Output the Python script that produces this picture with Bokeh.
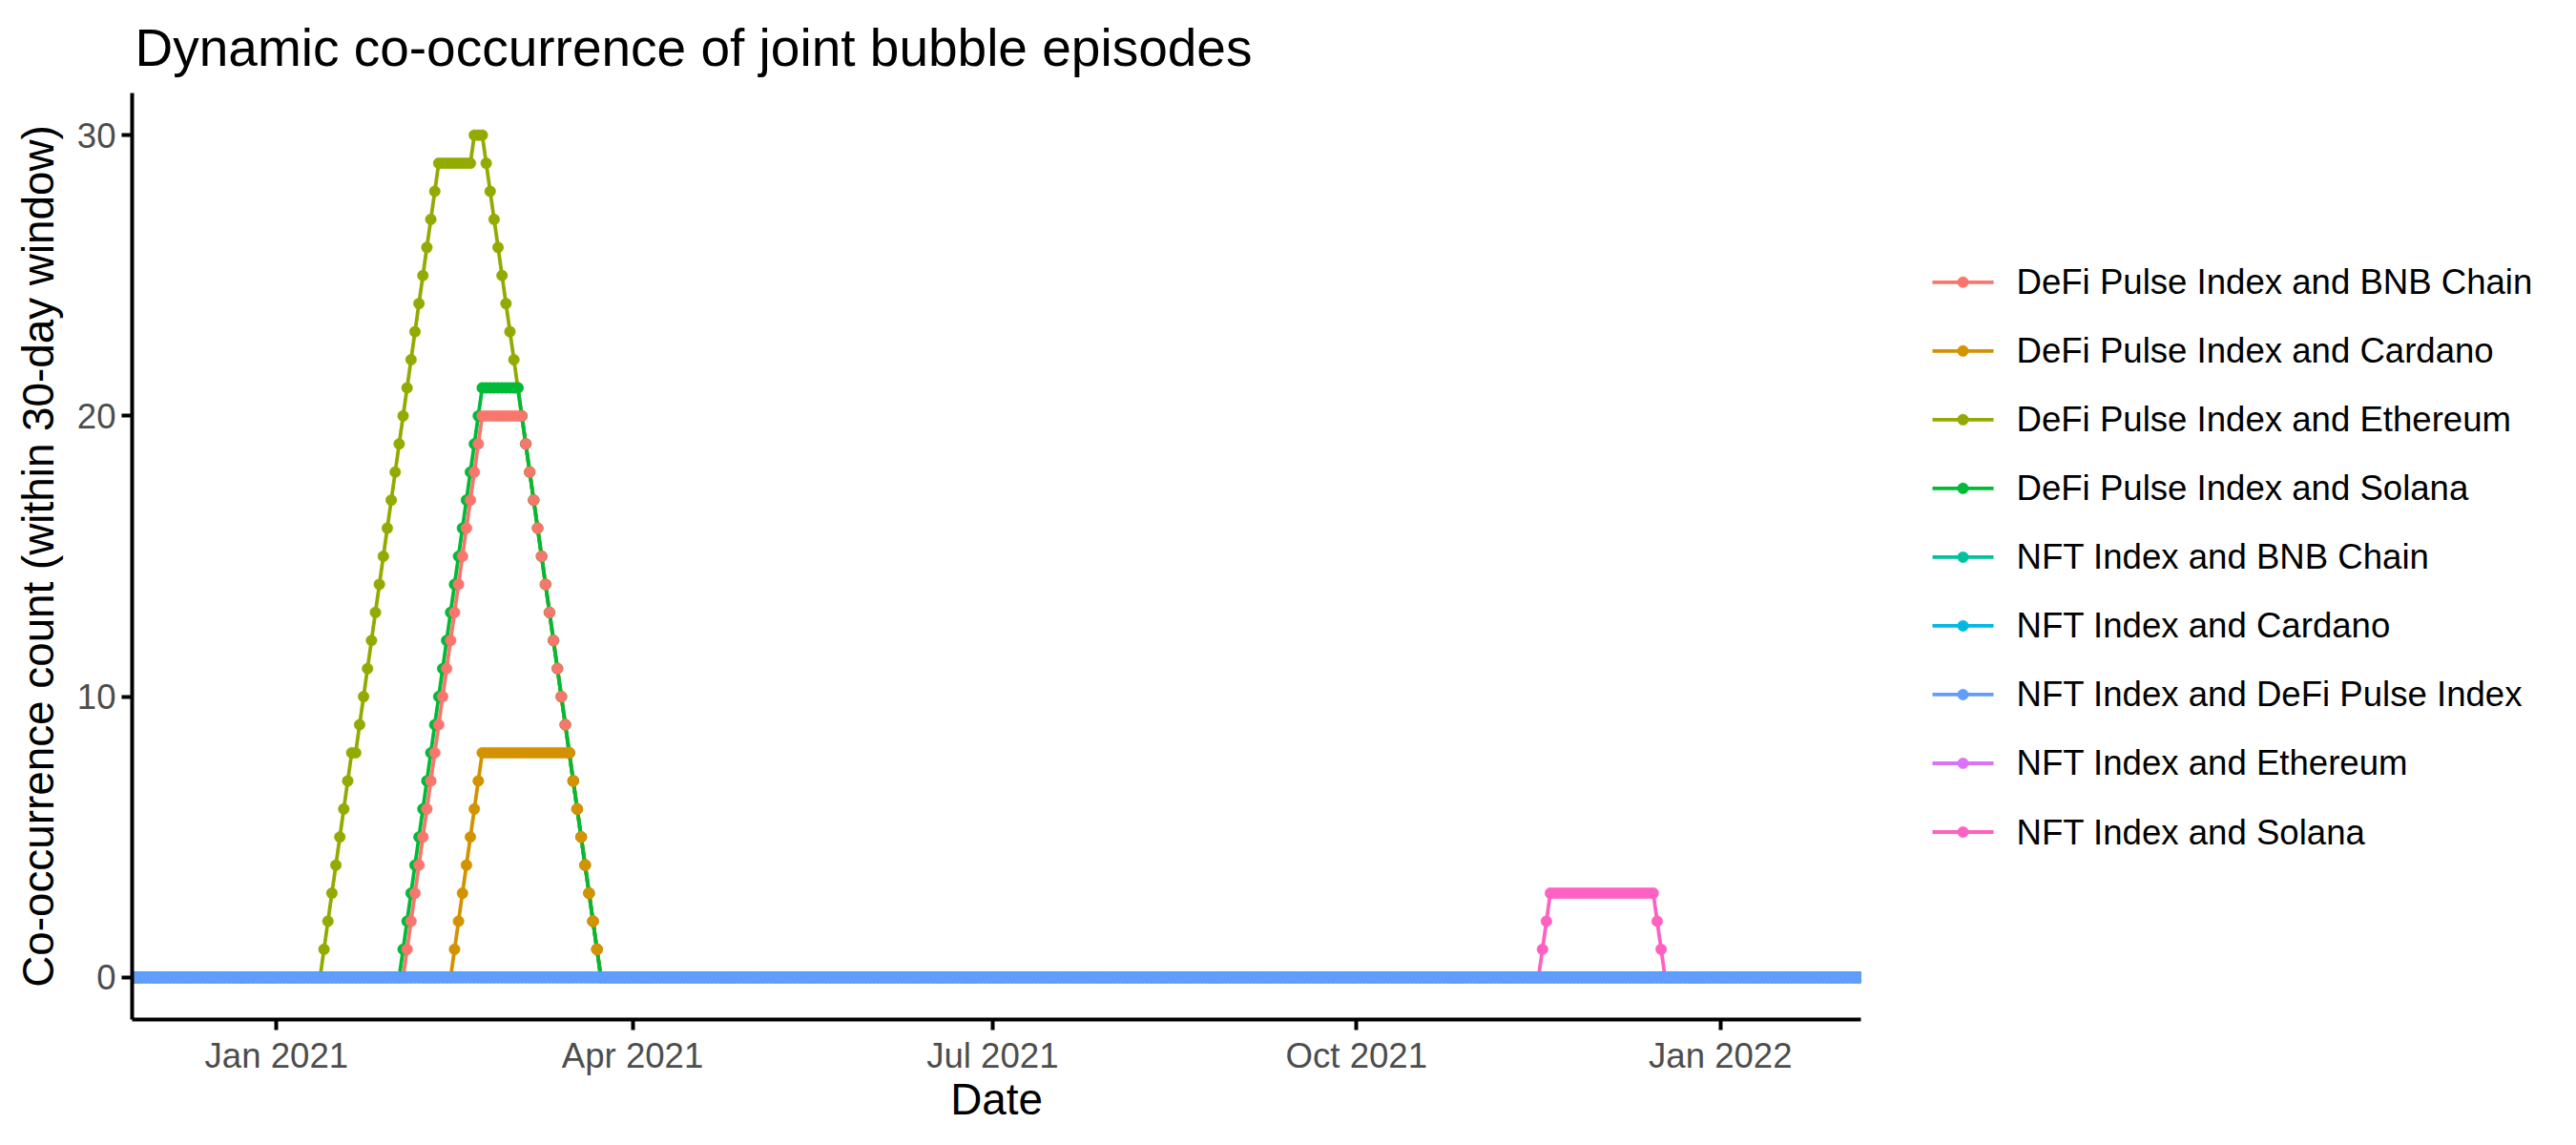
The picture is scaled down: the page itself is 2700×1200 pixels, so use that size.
import numpy as np
import pandas as pd
from bokeh.plotting import figure
from bokeh.layouts import row
from bokeh.core.properties import value
from bokeh.models import (ColumnDataSource, FixedTicker, DatetimeTickFormatter, Range1d)
from bokeh.embed import file_html
from bokeh.resources import INLINE

# ---------------- data ----------------
date_first = "2020-11-26"
date_last = "2022-02-05"

pairs = [
    "DeFi Pulse Index and BNB Chain",
    "DeFi Pulse Index and Cardano",
    "DeFi Pulse Index and Ethereum",
    "DeFi Pulse Index and Solana",
    "NFT Index and BNB Chain",
    "NFT Index and Cardano",
    "NFT Index and DeFi Pulse Index",
    "NFT Index and Ethereum",
    "NFT Index and Solana",
]
colors = ["#F8766D", "#D39200", "#93AA00", "#00BA38", "#00C19F",
          "#00B9E3", "#619CFF", "#DB72FB", "#FF61C3"]

# non-zero episodes: first date with a non-zero count, then daily counts
defi_bnb_start = "2021-02-03"
defi_bnb_vals = [1, 2, 3, 4, 5, 6, 7, 8, 9, 10, 11, 12, 13, 14, 15, 16, 17, 18, 19, 20,
                 20, 20, 20, 20, 20, 20, 20, 20, 20, 20,
                 19, 18, 17, 16, 15, 14, 13, 12, 11, 10, 9, 8, 7, 6, 5, 4, 3, 2, 1]

defi_cardano_start = "2021-02-15"
defi_cardano_vals = [1, 2, 3, 4, 5, 6, 7, 8,
                     8, 8, 8, 8, 8, 8, 8, 8, 8, 8, 8, 8, 8, 8, 8, 8, 8, 8, 8, 8, 8, 8,
                     7, 6, 5, 4, 3, 2, 1]

defi_eth_start = "2021-01-13"
defi_eth_vals = [1, 2, 3, 4, 5, 6, 7, 8, 8, 9, 10, 11, 12, 13, 14, 15, 16, 17, 18, 19,
                 20, 21, 22, 23, 24, 25, 26, 27, 28, 29,
                 29, 29, 29, 29, 29, 29, 29, 29,
                 30, 30, 30,
                 29, 28, 27, 26, 25, 24, 23, 22, 21, 20, 19, 18, 17, 16, 15, 14, 13,
                 12, 11, 10, 9, 8, 7, 6, 5, 4, 3, 2, 1]

defi_sol_start = "2021-02-02"
defi_sol_vals = [1, 2, 3, 4, 5, 6, 7, 8, 9, 10, 11, 12, 13, 14, 15, 16, 17, 18, 19, 20, 21,
                 21, 21, 21, 21, 21, 21, 21, 21, 21,
                 20, 19, 18, 17, 16, 15, 14, 13, 12, 11, 10, 9, 8, 7, 6, 5, 4, 3, 2, 1]

nft_sol_start = "2021-11-17"
nft_sol_vals = [1, 2, 3, 3, 3, 3, 3, 3, 3, 3, 3, 3, 3, 3, 3, 3, 3, 3, 3, 3, 3, 3, 3, 3,
                3, 3, 3, 3, 3, 2, 1]

episodes = {
    "DeFi Pulse Index and BNB Chain": (defi_bnb_start, defi_bnb_vals),
    "DeFi Pulse Index and Cardano": (defi_cardano_start, defi_cardano_vals),
    "DeFi Pulse Index and Ethereum": (defi_eth_start, defi_eth_vals),
    "DeFi Pulse Index and Solana": (defi_sol_start, defi_sol_vals),
    "NFT Index and Solana": (nft_sol_start, nft_sol_vals),
}

y_ticks = [0, 10, 20, 30]
x_tick_dates = ["2021-01-01", "2021-04-01", "2021-07-01", "2021-10-01", "2022-01-01"]

# ---------------- build series ----------------
dates = pd.date_range(date_first, date_last, freq="D")
series = {}
for name in pairs:
    s = pd.Series(0.0, index=dates)
    if name in episodes:
        st, vals = episodes[name]
        idx = pd.date_range(st, periods=len(vals), freq="D")
        s.loc[idx] = vals
    series[name] = ColumnDataSource(dict(x=dates, y=s.values))

# ---------------- main figure ----------------
FONT = "Liberation Sans"
MAIN_W = 1960
TOTAL_W = 2684
H = 1184
FRAME_TOP = 96
FRAME_BOTTOM = 1068
p = figure(width=MAIN_W, height=H, x_axis_type="datetime",
           output_backend="svg", toolbar_location=None,
           x_range=Range1d(pd.Timestamp(date_first) - pd.Timedelta(hours=12),
                           pd.Timestamp(date_last) + pd.Timedelta(hours=12)),
           y_range=Range1d(-1.5, 31.5),
           min_border_left=138, min_border_right=10,
           min_border_top=FRAME_TOP, min_border_bottom=H - FRAME_BOTTOM)

p.outline_line_color = None
p.xgrid.visible = False
p.ygrid.visible = False
p.background_fill_color = "white"
p.border_fill_color = "white"

p.title.text = "Dynamic co-occurrence of joint bubble episodes"
p.title.text_font = FONT
p.title.text_font_size = "55px"
p.title.text_font_style = "normal"
p.title.text_color = "black"
p.title.offset = 3
p.title.standoff = 33

LW = 3.8
MS = 11.5
for name, c in zip(pairs, colors):
    p.line("x", "y", source=series[name], line_color=c, line_width=LW)

point_order = [
    "DeFi Pulse Index and Ethereum",
    "DeFi Pulse Index and Solana",
    "DeFi Pulse Index and BNB Chain",
    "DeFi Pulse Index and Cardano",
    "NFT Index and Ethereum",
    "NFT Index and Solana",
    "NFT Index and BNB Chain",
    "NFT Index and Cardano",
    "NFT Index and DeFi Pulse Index",
]
for name in point_order:
    c = colors[pairs.index(name)]
    p.scatter("x", "y", source=series[name], size=MS,
              fill_color=c, line_color=c, line_width=0.5)

# axes
for ax in (p.xaxis[0], p.yaxis[0]):
    ax.axis_line_color = "black"
    ax.axis_line_width = 4
    ax.major_tick_line_color = "black"
    ax.major_tick_line_width = 4
    ax.major_tick_out = 11
    ax.major_tick_in = 0
    ax.minor_tick_line_color = None
    ax.major_label_text_font = FONT
    ax.major_label_text_font_size = "36.6px"
    ax.major_label_text_color = "#4D4D4D"
    ax.major_label_standoff = 6
    ax.axis_label_text_font = FONT
    ax.axis_label_text_font_size = "45.8px"
    ax.axis_label_text_font_style = "normal"
    ax.axis_label_text_color = "black"

p.xaxis[0].ticker = FixedTicker(ticks=[pd.Timestamp(d).value / 1e6 for d in x_tick_dates])
p.xaxis[0].formatter = DatetimeTickFormatter(days="%b %Y", months="%b %Y", years="%b %Y")
p.xaxis[0].axis_label = "Date"
p.xaxis[0].axis_label_standoff = -3

p.yaxis[0].ticker = FixedTicker(ticks=y_ticks)
p.yaxis[0].axis_label = "Co-occurrence count (within 30-day window)"
p.yaxis[0].axis_label_standoff = 12

# ---------------- legend panel (page-pixel coordinates, right of the plot) ----------------
LEG_W = TOTAL_W - MAIN_W
pl = figure(width=LEG_W, height=H, output_backend="svg", toolbar_location=None,
            x_range=Range1d(MAIN_W, TOTAL_W), y_range=Range1d(FRAME_BOTTOM, FRAME_TOP),
            min_border_left=0, min_border_right=0,
            min_border_top=FRAME_TOP, min_border_bottom=H - FRAME_BOTTOM)
pl.axis.visible = False
pl.grid.visible = False
pl.outline_line_color = None
pl.background_fill_color = "white"
pl.border_fill_color = "white"

row_y = [294.5 + 72.1 * k for k in range(len(pairs))]
n = len(pairs)
leg_src = ColumnDataSource(dict(x0=[2025] * n, x1=[2089] * n, xd=[2057] * n,
                                xt=[2113] * n, y=row_y, c=colors, label=pairs))
pl.segment(x0="x0", y0="y", x1="x1", y1="y", source=leg_src, line_color="c", line_width=LW)
pl.scatter(x="xd", y="y", source=leg_src, size=MS, fill_color="c", line_color="c",
           line_width=0.5)
pl.text(x="xt", y="y", text="label", source=leg_src, text_font=value(FONT),
        text_font_size="36.6px", text_color="black", text_baseline="middle",
        text_align="left")

layout = row(p, pl)
open("out.html", "w").write(file_html(layout, INLINE))
